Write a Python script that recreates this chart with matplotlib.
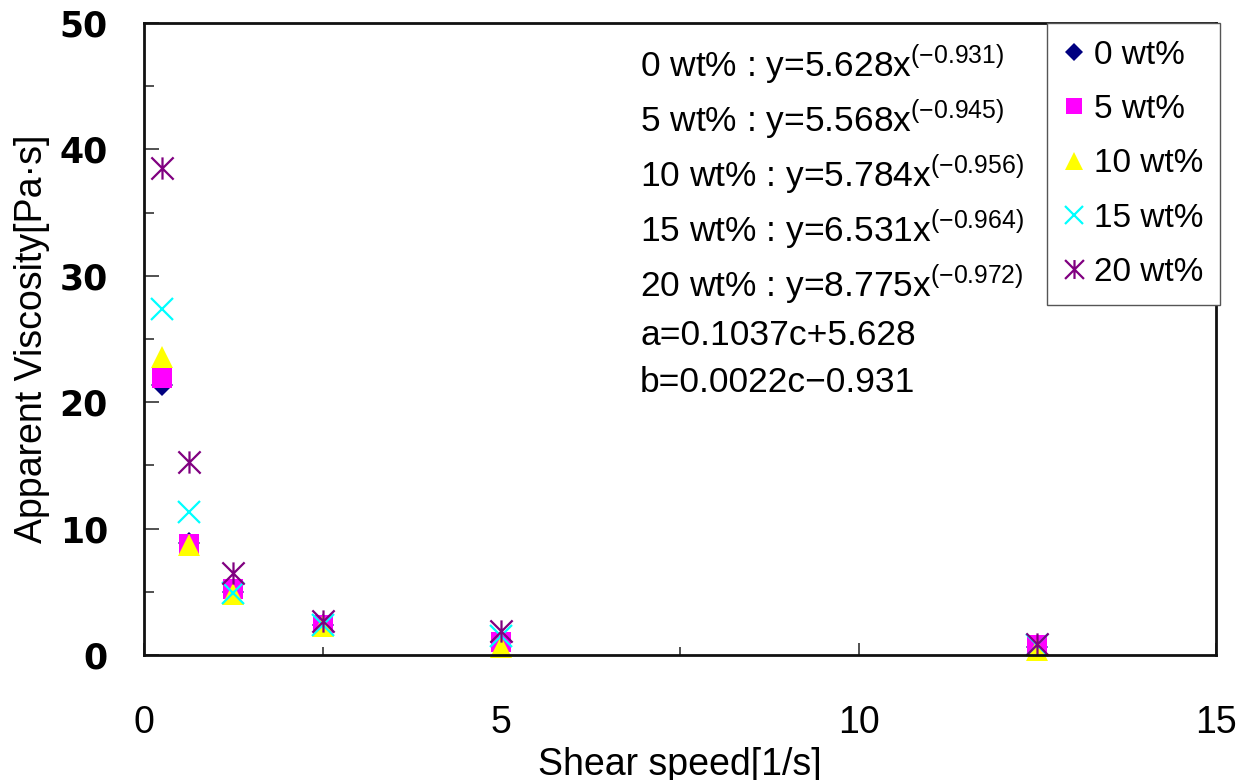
import matplotlib
matplotlib.use("Agg")
import matplotlib.pyplot as plt
from matplotlib.path import Path
from matplotlib.lines import Line2D

# shear speed [1/s]
shear = [0.25, 0.625, 1.25, 2.5, 5.0, 12.5]

# apparent viscosity [Pa*s] per concentration
visc_0 = [21.4, 8.9, 5.0, 2.4, 1.0, 0.6]
visc_5 = [21.9, 8.8, 5.2, 2.4, 1.0, 0.8]
visc_10 = [23.6, 8.7, 4.8, 2.3, 0.6, 0.4]
visc_15 = [27.4, 11.3, 4.9, 2.4, 1.5, 0.8]
visc_20 = [38.5, 15.3, 6.5, 2.7, 1.9, 0.9]

labels = ["0 wt%", "5 wt%", "10 wt%", "15 wt%", "20 wt%"]
fit_lines = [
    ("0 wt% : y=5.628x", "(-0.931)"),
    ("5 wt% : y=5.568x", "(-0.945)"),
    ("10 wt% : y=5.784x", "(-0.956)"),
    ("15 wt% : y=6.531x", "(-0.964)"),
    ("20 wt% : y=8.775x", "(-0.972)"),
]
extra_lines = ["a=0.1037c+5.628", "b=0.0022c\u22120.931"]

MAIN = ["Liberation Sans", "DejaVu Sans"]
plt.rcParams["font.family"] = MAIN
plt.rcParams["mathtext.fontset"] = "custom"
plt.rcParams["mathtext.rm"] = MAIN[0]
plt.rcParams["mathtext.it"] = MAIN[0]

# excel style asterisk: an x with a vertical bar
asterisk = Path(
    [(-1, -1), (1, 1), (-1, 1), (1, -1), (0, -1), (0, 1)],
    [Path.MOVETO, Path.LINETO] * 3,
)

styles = [
    dict(marker="D", color="#000080", ms=11, mew=0),
    dict(marker="s", color="#FF00FF", ms=14, mew=0),
    dict(marker="^", color="#FFFF00", ms=16, mew=0),
    dict(marker="x", color="#00FFFF", ms=16, mew=1.6),
    dict(marker=asterisk, color="#800080", ms=16, mew=1.6),
]
series = [visc_0, visc_5, visc_10, visc_15, visc_20]

W, H = 1248, 780
fig = plt.figure(figsize=(W / 100, H / 100), dpi=100)
ax = fig.add_axes([144 / W, 1 - 655 / H, (1216 - 144) / W, (655 - 23) / H])

for vals, st, lab in zip(series, styles, labels):
    ax.plot(shear, vals, linestyle="none", marker=st["marker"], color=st["color"],
            markersize=st["ms"], markeredgewidth=st["mew"], label=lab, clip_on=False)

ax.set_xlim(0, 15)
ax.set_ylim(0, 50)
ax.set_xticks([0, 5, 10, 15])
ax.set_xticks([2.5, 7.5, 12.5], minor=True)
ax.set_yticks([0, 10, 20, 30, 40, 50])
ax.set_yticks([5, 15, 25, 35, 45], minor=True)

ax.tick_params(axis="both", which="both", direction="in", color="#333333", width=1.2)
ax.tick_params(axis="y", which="major", length=11, pad=26)
ax.tick_params(axis="y", which="minor", length=7)
ax.tick_params(axis="x", which="major", length=9, pad=36)
ax.tick_params(axis="x", which="minor", length=6)

for lbl in ax.get_yticklabels():
    lbl.set_fontfamily("DejaVu Sans")
    lbl.set_fontweight("bold")
    lbl.set_fontsize(25)
for lbl in ax.get_xticklabels():
    lbl.set_fontsize(27)

for sp in ax.spines.values():
    sp.set_linewidth(2)
    sp.set_color("#111111")

ax.set_xlabel("Shear speed[1/s]", fontsize=27, labelpad=4)
ax.set_ylabel("Apparent Viscosity[Pa\u00b7s]", fontsize=27, labelpad=7)

# fitted equations
baselines = [77, 132, 187, 242, 297]
for (main, power), yb in zip(fit_lines, baselines):
    fig.text(640 / W, 1 - yb / H, main + r"$^{\mathrm{" + power.replace("-", "\u2212") + "}}$",
             fontsize=25.5, va="baseline", ha="left")
for txt, yb in zip(extra_lines, [345, 392]):
    fig.text(640 / W, 1 - yb / H, txt, fontsize=25.5, va="baseline", ha="left")

handles = [Line2D([], [], linestyle="none", marker=st["marker"], color=st["color"],
                  markersize=st["ms"] * 0.85, markeredgewidth=st["mew"]) for st in styles]
leg = ax.legend(handles, labels, loc="upper right", bbox_to_anchor=(1220 / W, 1 - 23 / H),
                bbox_transform=fig.transFigure, fontsize=24, frameon=True, fancybox=False,
                framealpha=1, edgecolor="#555555", borderaxespad=0, labelspacing=0.7,
                handlelength=0.6, handletextpad=0.3, borderpad=0.5)
leg.get_frame().set_linewidth(1.0)

fig.savefig("out.png", dpi=100)
